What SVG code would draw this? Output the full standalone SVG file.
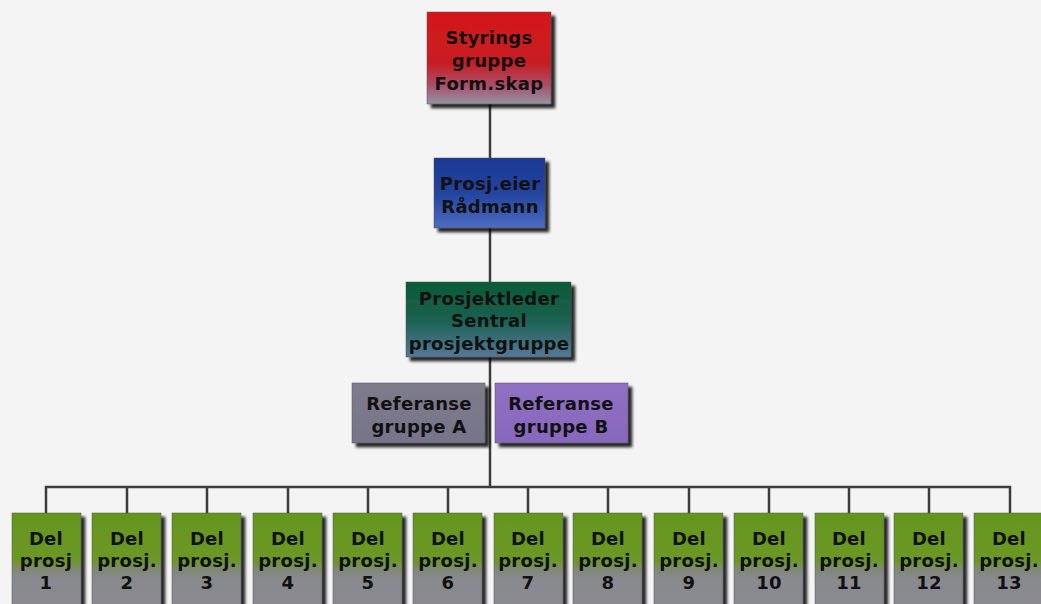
<svg xmlns="http://www.w3.org/2000/svg" width="1041" height="604" viewBox="0 0 1041 604">
<defs>
<linearGradient id="gRed" x1="0" y1="0" x2="0" y2="1">
<stop offset="0" stop-color="#d4181a"/><stop offset="0.55" stop-color="#c81c22"/><stop offset="0.8" stop-color="#a8506a"/><stop offset="1" stop-color="#9494a4"/>
</linearGradient>
<linearGradient id="gBlue" x1="0" y1="0" x2="0" y2="1">
<stop offset="0" stop-color="#1c3894"/><stop offset="0.5" stop-color="#23449e"/><stop offset="1" stop-color="#4c6cc2"/>
</linearGradient>
<linearGradient id="gTeal" x1="0" y1="0" x2="0" y2="1">
<stop offset="0" stop-color="#0a5a36"/><stop offset="0.5" stop-color="#1a6250"/><stop offset="1" stop-color="#56789a"/>
</linearGradient>
<linearGradient id="gRefA" x1="0" y1="0" x2="0" y2="1">
<stop offset="0" stop-color="#7e7c8a"/><stop offset="1" stop-color="#76748a"/>
</linearGradient>
<linearGradient id="gRefB" x1="0" y1="0" x2="0" y2="1">
<stop offset="0" stop-color="#9070c4"/><stop offset="1" stop-color="#8868bc"/>
</linearGradient>
<linearGradient id="gGreen" x1="0" y1="0" x2="0" y2="1">
<stop offset="0" stop-color="#64961e"/><stop offset="0.5" stop-color="#6c9826"/><stop offset="0.6" stop-color="#82887a"/><stop offset="0.7" stop-color="#888a90"/><stop offset="1" stop-color="#8a8a90"/>
</linearGradient>
<filter id="sh" x="-10%" y="-10%" width="130%" height="130%">
<feGaussianBlur in="SourceAlpha" stdDeviation="1.5"/>
<feOffset dx="4" dy="4" result="o"/>
<feComponentTransfer><feFuncA type="linear" slope="0.85"/></feComponentTransfer>
<feMerge><feMergeNode/><feMergeNode in="SourceGraphic"/></feMerge>
</filter>
</defs>
<style>
.t{font-family:"DejaVu Sans",Verdana,sans-serif;font-weight:bold;font-size:18px;letter-spacing:0.3px;fill:#111;text-anchor:middle}
.ln{stroke:#3c3c3c;stroke-width:2.5;fill:none}
.bx{filter:url(#sh);stroke:#505050;stroke-width:0.5}
</style>
<rect width="1041" height="604" fill="#f4f4f4"/>
<g id="connectors">
<line class="ln" x1="490" y1="104" x2="490" y2="158"/>
<line class="ln" x1="490" y1="228" x2="490" y2="282"/>
<line class="ln" x1="490" y1="357" x2="490" y2="487"/>
<polyline class="ln" points="46,513 46,487 1010,487 1010,513"/>
<line class="ln" x1="127" y1="487" x2="127" y2="513"/>
<line class="ln" x1="207" y1="487" x2="207" y2="513"/>
<line class="ln" x1="288" y1="487" x2="288" y2="513"/>
<line class="ln" x1="368" y1="487" x2="368" y2="513"/>
<line class="ln" x1="448" y1="487" x2="448" y2="513"/>
<line class="ln" x1="528" y1="487" x2="528" y2="513"/>
<line class="ln" x1="608" y1="487" x2="608" y2="513"/>
<line class="ln" x1="689" y1="487" x2="689" y2="513"/>
<line class="ln" x1="769" y1="487" x2="769" y2="513"/>
<line class="ln" x1="849" y1="487" x2="849" y2="513"/>
<line class="ln" x1="929" y1="487" x2="929" y2="513"/>
</g>
<g id="styringsgruppe">
<rect class="bx" x="427" y="12" width="124" height="92" fill="url(#gRed)"/>
<text class="t" x="489" y="44">Styrings</text>
<text class="t" x="489" y="67">gruppe</text>
<text class="t" x="489" y="90">Form.skap</text>
</g>
<g id="prosjeier">
<rect class="bx" x="434" y="158" width="111" height="70" fill="url(#gBlue)"/>
<text class="t" x="490" y="190">Prosj.eier</text>
<text class="t" x="490" y="213">Rådmann</text>
</g>
<g id="prosjektleder">
<rect class="bx" x="406" y="282" width="165" height="75" fill="url(#gTeal)"/>
<text class="t" x="489" y="305">Prosjektleder</text>
<text class="t" x="489" y="327">Sentral</text>
<text class="t" x="489" y="350">prosjektgruppe</text>
</g>
<g id="refA">
<rect class="bx" x="352" y="383" width="133" height="60" fill="url(#gRefA)"/>
<text class="t" x="419" y="410">Referanse</text>
<text class="t" x="419" y="433">gruppe A</text>
</g>
<g id="refB">
<rect class="bx" x="495" y="383" width="133" height="60" fill="url(#gRefB)"/>
<text class="t" x="561" y="410">Referanse</text>
<text class="t" x="561" y="433">gruppe B</text>
</g>
<g id="del1"><rect class="bx" x="12" y="513" width="69" height="95" fill="url(#gGreen)"/><text class="t" x="46" y="545">Del</text><text class="t" x="46" y="567">prosj</text><text class="t" x="46" y="589">1</text></g>
<g id="del2"><rect class="bx" x="92" y="513" width="69" height="95" fill="url(#gGreen)"/><text class="t" x="127" y="545">Del</text><text class="t" x="127" y="567">prosj.</text><text class="t" x="127" y="589">2</text></g>
<g id="del3"><rect class="bx" x="172" y="513" width="69" height="95" fill="url(#gGreen)"/><text class="t" x="207" y="545">Del</text><text class="t" x="207" y="567">prosj.</text><text class="t" x="207" y="589">3</text></g>
<g id="del4"><rect class="bx" x="253" y="513" width="69" height="95" fill="url(#gGreen)"/><text class="t" x="288" y="545">Del</text><text class="t" x="288" y="567">prosj.</text><text class="t" x="288" y="589">4</text></g>
<g id="del5"><rect class="bx" x="333" y="513" width="69" height="95" fill="url(#gGreen)"/><text class="t" x="368" y="545">Del</text><text class="t" x="368" y="567">prosj.</text><text class="t" x="368" y="589">5</text></g>
<g id="del6"><rect class="bx" x="413" y="513" width="69" height="95" fill="url(#gGreen)"/><text class="t" x="448" y="545">Del</text><text class="t" x="448" y="567">prosj.</text><text class="t" x="448" y="589">6</text></g>
<g id="del7"><rect class="bx" x="494" y="513" width="69" height="95" fill="url(#gGreen)"/><text class="t" x="528" y="545">Del</text><text class="t" x="528" y="567">prosj.</text><text class="t" x="528" y="589">7</text></g>
<g id="del8"><rect class="bx" x="573" y="513" width="69" height="95" fill="url(#gGreen)"/><text class="t" x="608" y="545">Del</text><text class="t" x="608" y="567">prosj.</text><text class="t" x="608" y="589">8</text></g>
<g id="del9"><rect class="bx" x="654" y="513" width="69" height="95" fill="url(#gGreen)"/><text class="t" x="689" y="545">Del</text><text class="t" x="689" y="567">prosj.</text><text class="t" x="689" y="589">9</text></g>
<g id="del10"><rect class="bx" x="734" y="513" width="69" height="95" fill="url(#gGreen)"/><text class="t" x="769" y="545">Del</text><text class="t" x="769" y="567">prosj.</text><text class="t" x="769" y="589">10</text></g>
<g id="del11"><rect class="bx" x="815" y="513" width="69" height="95" fill="url(#gGreen)"/><text class="t" x="849" y="545">Del</text><text class="t" x="849" y="567">prosj.</text><text class="t" x="849" y="589">11</text></g>
<g id="del12"><rect class="bx" x="894" y="513" width="69" height="95" fill="url(#gGreen)"/><text class="t" x="929" y="545">Del</text><text class="t" x="929" y="567">prosj.</text><text class="t" x="929" y="589">12</text></g>
<g id="del13"><rect class="bx" x="974" y="513" width="69" height="95" fill="url(#gGreen)"/><text class="t" x="1009" y="545">Del</text><text class="t" x="1009" y="567">prosj.</text><text class="t" x="1009" y="589">13</text></g>
</svg>
